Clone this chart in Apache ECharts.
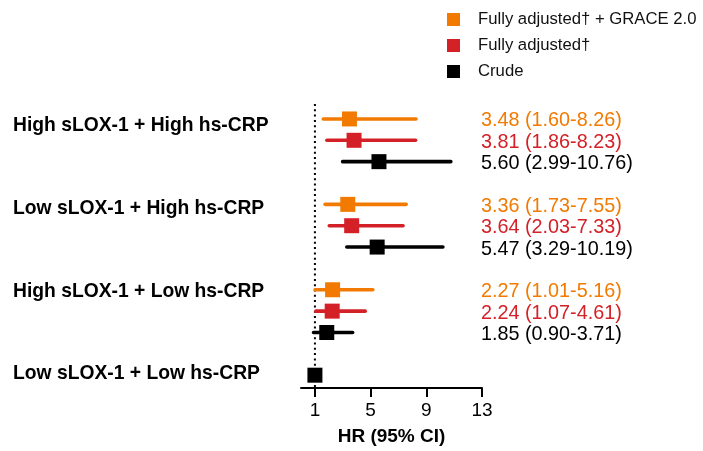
<!DOCTYPE html>
<html>
<head>
<meta charset="utf-8">
<script src="https://cdn.jsdelivr.net/npm/echarts@6/dist/echarts.min.js"></script>
<style>
  html, body { margin: 0; padding: 0; background: #fff; }
  #chart { width: 703px; height: 451px; }
</style>
</head>
<body>
<div id="chart"></div>
<script>
// Patient groups (top to bottom)
const groups = [
  'High sLOX-1 + High hs-CRP',
  'Low sLOX-1 + High hs-CRP',
  'High sLOX-1 + Low hs-CRP',
  'Low sLOX-1 + Low hs-CRP'
];

// Model names (legend order)
const modelNames = ['Fully adjusted\u2020 + GRACE 2.0', 'Fully adjusted\u2020', 'Crude'];

// Hazard ratios and 95% confidence limits per model; null = not estimated (reference group)
const graceHR = [3.48, 3.36, 2.27, null];
const graceLo = [1.60, 1.73, 1.01, null];
const graceHi = [8.26, 7.55, 5.16, null];

const adjHR = [3.81, 3.64, 2.24, null];
const adjLo = [1.86, 2.03, 1.07, null];
const adjHi = [8.23, 7.33, 4.61, null];

const crudeHR = [5.60, 5.47, 1.85, 1];
const crudeLo = [2.99, 3.29, 0.90, null];
const crudeHi = [10.76, 10.19, 3.71, null];

// X axis tick values
const xTicks = [1, 5, 9, 13];

// ---- layout / style ----
const FONT = '"Liberation Sans", Arial, Helvetica, sans-serif';
const colors = ['#F27A00', '#D42027', '#000000'];
const ROWS_PER_GROUP = 4;
const groupLabelPos = [0.32, 4.2, 8.08, 11.93];

const models = [
  { hr: graceHR, lo: graceLo, hi: graceHi },
  { hr: adjHR, lo: adjLo, hi: adjHi },
  { hr: crudeHR, lo: crudeLo, hi: crudeHi }
];

// Row index of each estimate: models present in a group stack downward from the group's first row
function buildRows(mIdx) {
  const out = [];
  groups.forEach((g, gi) => {
    const m = models[mIdx];
    if (m.hr[gi] == null) return;
    let offset = 0;
    for (let k = 0; k < mIdx; k++) if (models[k].hr[gi] != null) offset++;
    const row = gi * ROWS_PER_GROUP + offset;
    const lo = m.lo[gi] == null ? m.hr[gi] : m.lo[gi];
    const hi = m.hi[gi] == null ? m.hr[gi] : m.hi[gi];
    const showText = m.lo[gi] != null ? 1 : 0;
    out.push([m.hr[gi], row, lo, hi, showText]);
  });
  return out;
}

const fmt = v => v.toFixed(2);

function renderForest(color) {
  return function (params, api) {
    const hr = api.value(0), row = api.value(1), lo = api.value(2), hi = api.value(3);
    const pLo = api.coord([lo, row]);
    const pHi = api.coord([hi, row]);
    const pHr = api.coord([hr, row]);
    const pEnd = api.coord([13, row]);
    const size = 15;
    const children = [];
    if (hi > lo) {
      children.push({
        type: 'line',
        shape: { x1: pLo[0], y1: pLo[1], x2: pHi[0], y2: pHi[1] },
        style: { stroke: color, lineWidth: 3.6, lineCap: 'round' }
      });
    }
    children.push({
      type: 'rect',
      shape: { x: pHr[0] - size / 2, y: pHr[1] - size / 2, width: size, height: size },
      style: { fill: color }
    });
    if (api.value(4)) {
      children.push({
        type: 'text',
        style: {
          x: pEnd[0] - 1, y: pEnd[1] + 2,
          text: fmt(hr) + ' (' + fmt(lo) + '-' + fmt(hi) + ')',
          fill: color, font: '19.8px ' + FONT,
          align: 'left', verticalAlign: 'middle'
        }
      });
    }
    return { type: 'group', children: children };
  };
}

const series = models.map((m, i) => ({
  name: modelNames[i],
  type: 'custom',
  renderItem: renderForest(colors[i]),
  itemStyle: { color: colors[i] },
  encode: { x: [0, 2, 3], y: 1 },
  data: buildRows(i),
  clip: false,
  z: 3
}));

// Null-effect reference line at HR = 1
series.push({
  type: 'line',
  data: [[1, -0.7], [1, 12.6]],
  symbol: 'none',
  silent: true,
  lineStyle: { color: '#000', width: 2, type: [2, 3.3] },
  z: 1
});

// Group names, drawn left-aligned at the chart's left margin
series.push({
  type: 'scatter',
  data: groupLabelPos.map((p, i) => [0, p, groups[i]]),
  symbolSize: 0,
  silent: true,
  clip: false,
  itemStyle: { opacity: 1, color: '#000' },
  label: {
    show: true,
    position: 'inside',
    align: 'left',
    verticalAlign: 'middle',
    offset: [-288, 0],
    formatter: p => p.value[2],
    fontSize: 19.3,
    fontWeight: 'bold',
    color: '#000',
    opacity: 1,
    fontFamily: FONT
  },
  z: 2
});

const chart = echarts.init(document.getElementById('chart'), null, { renderer: 'canvas' });
chart.setOption({
  animation: false,
  backgroundColor: '#fff',
  textStyle: { fontFamily: FONT },
  grid: { left: 301, right: 221, top: 104, bottom: 63, containLabel: false },
  legend: {
    data: modelNames,
    orient: 'vertical',
    left: 447,
    top: 11,
    padding: 0,
    icon: 'rect',
    itemWidth: 13,
    itemHeight: 13,
    itemGap: 9,
    selectedMode: false,
    textStyle: { fontSize: 16.7, color: '#111', fontFamily: FONT, padding: [0, 0, 0, 13] }
  },
  xAxis: {
    type: 'value',
    min: 0,
    max: 13,
    name: 'HR (95% CI)',
    nameLocation: 'middle',
    nameGap: 39,
    nameTextStyle: { fontSize: 19, fontWeight: 'bold', color: '#000', fontFamily: FONT },
    axisLine: { show: true, onZero: false, lineStyle: { color: '#000', width: 2 } },
    axisTick: { show: true, customValues: xTicks, length: 9, lineStyle: { color: '#000', width: 2 } },
    axisLabel: { customValues: xTicks, fontSize: 19, color: '#000', margin: 13, fontFamily: FONT },
    splitLine: { show: false }
  },
  yAxis: {
    type: 'value',
    inverse: true,
    min: -0.7,
    max: 12.6,
    axisLine: { show: false },
    axisTick: { show: false },
    splitLine: { show: false },
    axisLabel: { show: false }
  },
  series: series
});
</script>
</body>
</html>
